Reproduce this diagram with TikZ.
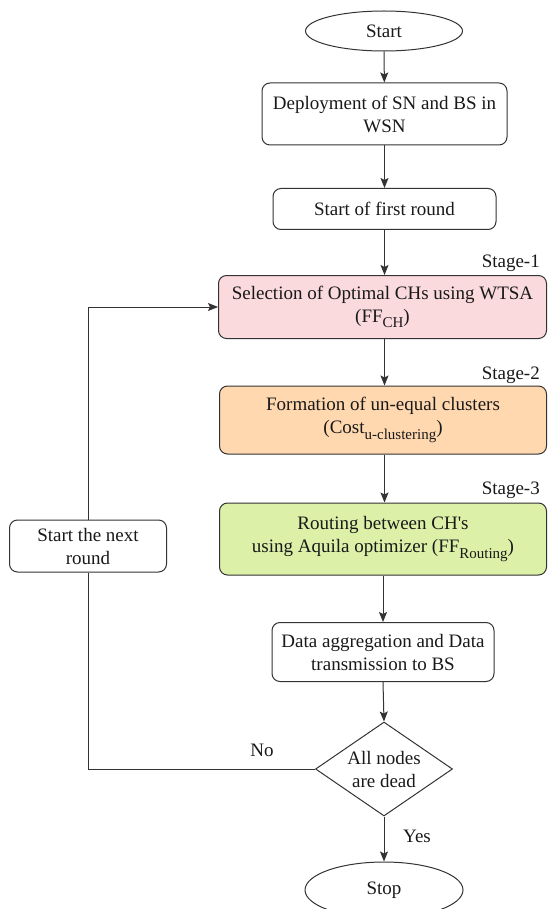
\documentclass[tikz,border=0pt]{standalone}
\usepackage{fontspec}
\setmainfont{Liberation Serif}
\newfontfamily\apofont{Liberation Serif}
\usetikzlibrary{shapes.geometric,arrows.meta,positioning}
\definecolor{linec}{HTML}{333333}
\definecolor{pinkf}{HTML}{FADADD}
\definecolor{orangef}{HTML}{FFD8B0}
\definecolor{greenf}{HTML}{DDF0A8}
\newcommand{\mysub}[1]{\raisebox{-0.28em}{\fontsize{15}{15}\selectfont #1}}
\tikzset{
  every node/.style={font=\fontsize{19}{23}\selectfont, text=black!90},
  procbox/.style={draw=linec, line width=1pt, rounded corners=8pt, align=center, inner sep=0pt},
  termin/.style={draw=linec, line width=1pt, ellipse, inner sep=0pt},
  decis/.style={draw=linec, line width=1pt, diamond, inner sep=0pt, align=center},
  flow/.style={draw=linec, line width=1pt, -{Stealth[length=10pt,width=8pt,inset=2pt]}},
  plainline/.style={draw=linec, line width=1pt},
  stagelbl/.style={anchor=east, inner sep=0pt},
}
\begin{document}
\begin{tikzpicture}[x=1pt,y=-1pt]
\useasboundingbox (0,0) rectangle (547,909);
\node[termin, minimum width=157pt, minimum height=40pt] (start) at (384,31) {Start};
\node[procbox, minimum width=245pt, minimum height=62pt] (deploy) at (384.5,114) {Deployment of SN and BS in\\WSN};
\node[procbox, minimum width=223pt, minimum height=41pt] (first) at (384.5,209) {Start of first round};
\node[stagelbl] (st1) at (540,263) {Stage-1};
\node[procbox, fill=pinkf, minimum width=328pt, minimum height=63pt] (sel) at (382.5,307) {Selection of Optimal CHs using WTSA\\(FF\mysub{CH})};
\node[stagelbl] (st2) at (540,375) {Stage-2};
\node[procbox, fill=orangef, minimum width=327pt, minimum height=68pt] (form) at (383,420) {Formation of un-equal clusters\\(Cost\mysub{u-clustering})};
\node[stagelbl] (st3) at (540,490) {Stage-3};
\node[procbox, fill=greenf, minimum width=327pt, minimum height=72pt] (rout) at (383,539) {Routing between CH{\apofont'}s\\using Aquila optimizer (FF\mysub{Routing})};
\node[procbox, minimum width=222pt, minimum height=59pt] (agg) at (383,652) {Data aggregation and Data\\transmission to BS};
\node[decis, minimum width=137pt, minimum height=94pt, aspect=1.46] (dead) at (384,769) {All nodes\\are dead};
\node[termin, minimum width=158pt, minimum height=56pt] (stop) at (384,890) {Stop};
\node[procbox, minimum width=157pt, minimum height=52pt] (next) at (88,546) {Start the next\\round};
\node (no) at (262,750) {No};
\node (yes) at (417,836) {Yes};
\draw[flow] (start) -- (deploy);
\draw[flow] (deploy) -- (first);
\draw[flow] (first.south) -- (first.south |- sel.north);
\draw[flow] (sel.south -| first.south) -- (first.south |- form.north);
\draw[flow] (form.south -| first.south) -- (first.south |- rout.north);
\draw[flow] (rout.south -| agg.north) -- (agg.north);
\draw[flow] (agg.south) -- (dead.north);
\draw[flow] (dead.south) -- (stop.north);
\draw[plainline] (dead.west) -| (next.south);
\draw[flow] (next.north) |- (sel.west);
\end{tikzpicture}
\end{document}
